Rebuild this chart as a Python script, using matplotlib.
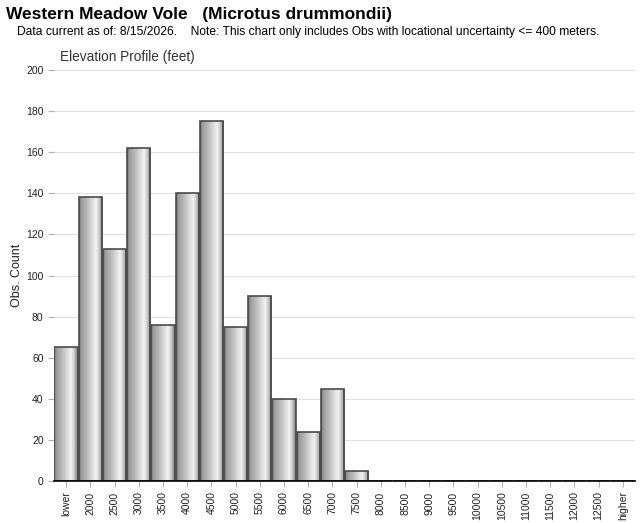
import numpy as np
import matplotlib
matplotlib.use("Agg")
import matplotlib.pyplot as plt

plt.rcParams['font.family'] = ['Liberation Sans', 'DejaVu Sans']

# elevation bins (feet)
categories = ['lower'] + [str(v) for v in range(2000, 13000, 500)] + ['higher']
counts = [65, 138, 113, 162, 76, 140, 175, 75, 90, 40, 24, 45, 5,
          0, 0, 0, 0, 0, 0, 0, 0, 0, 0, 0]

fig = plt.figure(figsize=(6.4, 5.23), dpi=100)
ax = fig.add_axes([54 / 640, 1 - 481 / 523, 581 / 640, 411 / 523])

x = np.arange(len(categories))
bars = ax.bar(x, counts, width=0.96, color='none', edgecolor='#4a4a4a',
              linewidth=1.2, zorder=3)

# cylinder-like horizontal shading inside each bar
pos = [0.0, 0.08, 0.35, 0.72, 0.86, 1.0]
lev = [0.40, 0.60, 0.74, 0.95, 0.78, 0.45]
shade = np.interp(np.linspace(0, 1, 64), pos, lev).reshape(1, -1)
for b in bars:
    h = b.get_height()
    if h <= 0:
        continue
    x0 = b.get_x()
    im = ax.imshow(shade, cmap='gray', vmin=0, vmax=1, aspect='auto',
                   extent=[x0, x0 + b.get_width(), 0, h], zorder=2,
                   interpolation='bilinear')
    im.set_clip_path(b)

ax.set_xlim(-0.5, len(categories) - 0.5)
ax.set_ylim(0, 200)
ax.set_yticks(range(0, 201, 20))
ax.set_xticks(x)
ax.set_xticklabels(categories, rotation=90)
ax.tick_params(axis='both', labelsize=7.5, colors='#b0b0b0', length=4,
               width=0.8, labelcolor='#222222')
ax.grid(axis='y', color='#e3e3e3', linewidth=0.9, zorder=0)
ax.set_axisbelow(True)
for s in ['top', 'right', 'left']:
    ax.spines[s].set_visible(False)
ax.spines['bottom'].set_color('black')
ax.spines['bottom'].set_linewidth(1.2)
ax.spines['bottom'].set_zorder(4)
ax.set_ylabel('Obs. Count', fontsize=9, color='#222222')
ax.yaxis.set_label_coords(-31 / 581, 0.5)

fig.text(6 / 640, 1 - 14 / 523, 'Western Meadow Vole   (Microtus drummondii)',
         fontsize=12.5, fontweight='bold', va='center', ha='left')
fig.text(17 / 640, 1 - 32 / 523,
         'Data current as of: 8/15/2026.    Note: This chart only includes Obs with locational uncertainty <= 400 meters.',
         fontsize=8.65, va='center', ha='left')
fig.text(60 / 640, 1 - 57 / 523, 'Elevation Profile (feet)',
         fontsize=9.8, color='#333333', va='center', ha='left')

fig.savefig('out.png', dpi=100)
